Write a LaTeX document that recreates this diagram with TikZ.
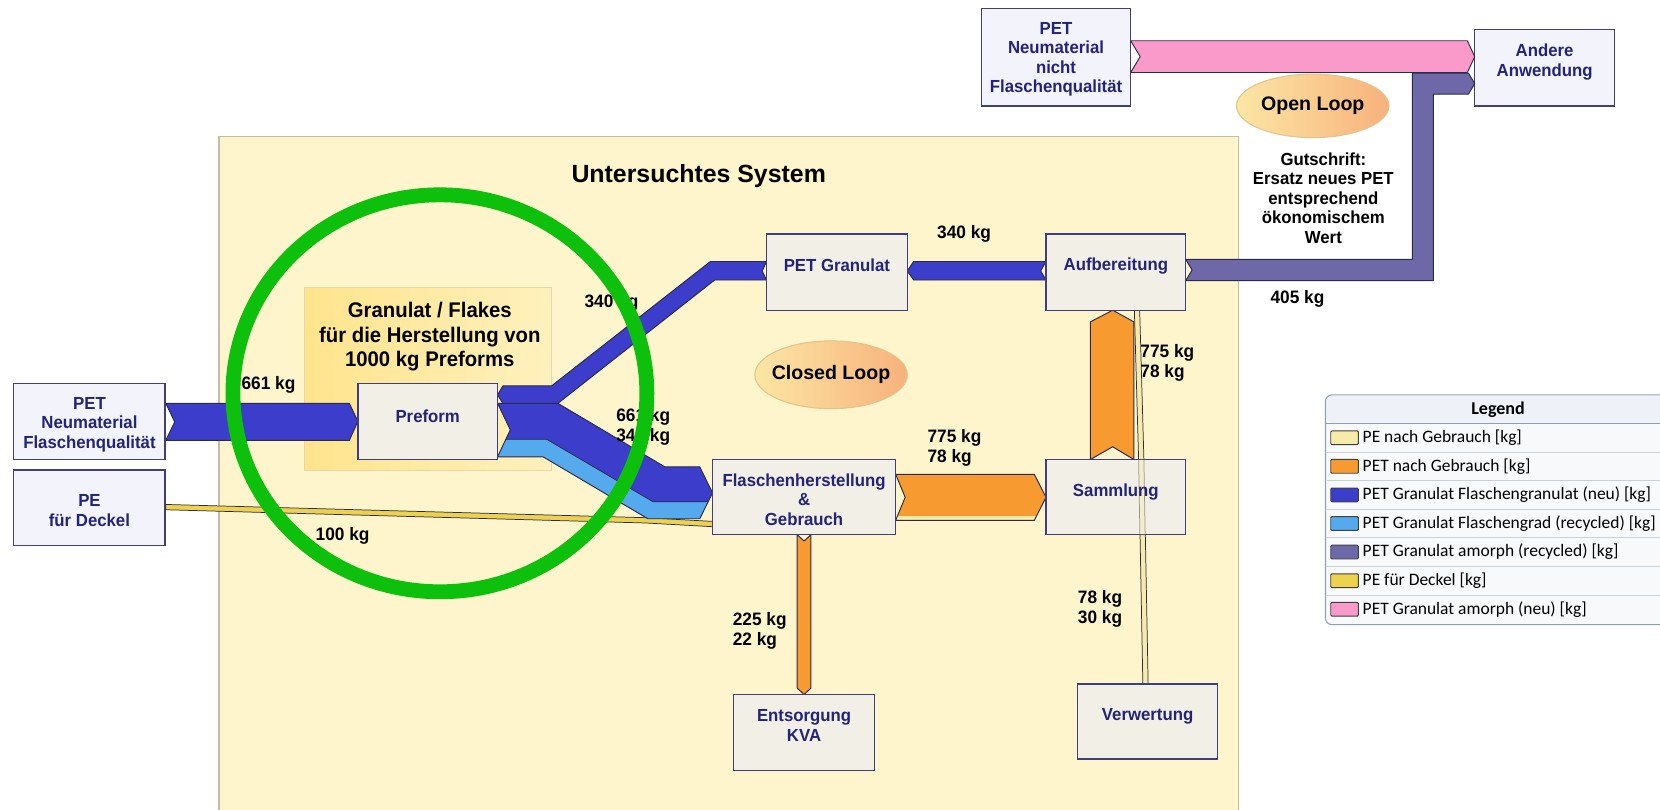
\documentclass[tikz,border=0pt]{standalone}
\usepackage{fontspec}
\setmainfont{Liberation Sans}
\newfontfamily\nar{Liberation Sans}[FakeStretch=0.96]
\newfontfamily\leg{Carlito}
\usetikzlibrary{shapes.geometric,calc}
\definecolor{sysbg}{HTML}{FFF5CC}
\definecolor{sysborder}{HTML}{C2BCA8}
\definecolor{granA}{HTML}{FFE48C}
\definecolor{granB}{HTML}{FFF1BE}
\definecolor{granborder}{HTML}{E6D7A6}
\definecolor{cboxin}{HTML}{F1EFE6}
\definecolor{cboxout}{HTML}{F3F3FB}
\definecolor{cborder}{HTML}{3F3F7F}
\definecolor{cbtext}{HTML}{23237A}
\definecolor{cline}{HTML}{2A2A4A}
\definecolor{cblue}{HTML}{3D3DCB}
\definecolor{clblue}{HTML}{55AAEE}
\definecolor{corange}{HTML}{F79A30}
\definecolor{cpale}{HTML}{F6EBA8}
\definecolor{cyellow}{HTML}{EDD24E}
\definecolor{cpurple}{HTML}{6F68A8}
\definecolor{cpink}{HTML}{FA9ACB}
\definecolor{cgreen}{HTML}{0CC00C}
\definecolor{loopA}{HTML}{FCE6A4}
\definecolor{loopB}{HTML}{F7B27C}
\definecolor{loopborder}{HTML}{E2C48C}
\definecolor{legbg}{HTML}{F8F9FB}
\definecolor{leghead}{HTML}{EEF2F8}
\definecolor{legborder}{HTML}{8FA0B0}
\definecolor{legsep}{HTML}{C8D0D8}
\begin{document}
\begin{tikzpicture}[x=1pt,y=-1pt,
  inbox/.style={draw=cborder,line width=1.3pt,fill=cboxin,inner sep=0pt},
  outbox/.style={draw=cborder,line width=1.3pt,fill=cboxout,inner sep=0pt},
  btxt/.style={font=\nar\bfseries\fontsize{16.5}{18.5}\selectfont,text=cbtext,align=center,inner sep=0pt},
  num/.style={font=\nar\bfseries\fontsize{17}{19}\selectfont,align=left,anchor=west,inner sep=0pt},
  flow/.style={draw=cline,line width=0.9pt,line join=round},
  loop/.style={ellipse,draw=loopborder,line width=1pt,left color=loopA,right color=loopB,inner sep=0pt},
  looptxt/.style={font=\bfseries\fontsize{18.5}{20}\selectfont,inner sep=0pt},
  legtxt/.style={font=\leg\fontsize{16.5}{18}\selectfont,anchor=west,inner sep=0pt}
]
\useasboundingbox (0,0) rectangle (1568,765);
\fill[white] (0,0) rectangle (1568,765);

% system area
\draw[fill=sysbg,draw=sysborder,line width=1.5pt] (207,129) rectangle (1170,770);
\node[font=\bfseries\fontsize{23.5}{26}\selectfont,inner sep=0pt] (title) at (660,166) {Untersuchtes System};

% Granulat / Flakes area
\node[draw=granborder,line width=1pt,left color=granA,right color=granB,minimum width=233pt,minimum height=172pt,inner sep=0pt] (granarea) at (404.5,358) {};
\node[font=\nar\bfseries\fontsize{20}{23}\selectfont,align=center,inner sep=0pt] (grantxt) at (406,318) {Granulat / Flakes\\für die Herstellung von\\1000 kg Preforms};

\path (84.5,398) coordinate (neuC) (84.5,479.5) coordinate (peC) (997.5,54) coordinate (nichtC)
      (1459,64) coordinate (andereC) (790.5,257) coordinate (granC) (1054,257) coordinate (aufbC)
      (759.5,469.5) coordinate (flaschC) (1054,469.5) coordinate (sammC) (759.5,692) coordinate (entsC)
      (1084,681.5) coordinate (verwC) (404,398) coordinate (preC);
\node[outbox,minimum width=143pt,minimum height=72pt] (neu) at (neuC) {};
\node[outbox,minimum width=143pt,minimum height=71pt] (pe) at (peC) {};
\node[outbox,minimum width=141pt,minimum height=92pt] (nicht) at (nichtC) {};
\node[outbox,minimum width=132pt,minimum height=72pt] (andere) at (andereC) {};

% flows
\path[flow,fill=cblue] (neu.east |- 0,381) -- (330,381) -- (preC -| 338,0) -- (330,416) -- (neu.east |- 0,416) -- (165,398.5) -- cycle;
\path[flow,fill=cyellow,line width=0.7pt] (pe.east |- 0,476.5) -- (610,489) -- (673,492.5) -- (673,497.5) -- (610,494) -- (pe.east |- 0,481.5) -- cycle;
\begin{scope}
  \clip (470,381) -- (527,381) -- (628,441) -- (661,441) -- (673,465.5) -- (661,490) -- (612,490) -- (513,431.5) -- (470,431.5) -- (482,406) -- cycle;
  \fill[clblue] (450,370) rectangle (690,500);
  \fill[cblue] (450,370) -- (700,370) -- (700,474) -- (617,474) -- (516.5,415) -- (450,415) -- cycle;
\end{scope}
\path[flow] (470,381) -- (527,381) -- (628,441) -- (661,441) -- (673,465.5) -- (661,490) -- (612,490) -- (513,431.5) -- (470,431.5) -- (482,406) -- cycle;
\draw[cline,line width=0.7pt] (478,415) -- (516.5,415) -- (617,474) -- (668.5,474);
\path[flow,fill=cblue] (470,373) -- (475,364.5) -- (521,364.5) -- (671,247) -- (724,247) -- (720,256) -- (724,264.5) -- (675,264.5) -- (527,381) -- (475,381) -- cycle;
\path[flow,fill=cblue] (857,256) -- (863,247) -- (988,247) -- (983,256) -- (988,264.5) -- (863,264.5) -- cycle;
\begin{scope}
  \clip (846,448) -- (977,448) -- (988,469.75) -- (977,491.5) -- (846,491.5) -- (855,469.75) -- cycle;
  \fill[corange] (840,440) rectangle (990,500);
  \fill[cpale] (840,487.5) rectangle (990,500);
\end{scope}
\path[flow] (846,448) -- (977,448) -- (988,469.75) -- (977,491.5) -- (846,491.5) -- (855,469.75) -- cycle;
\path[flow,fill=corange] (1030,434) -- (1030,304) -- (1051,293) -- (1071,304) -- (1071,434) -- (1051,422) -- cycle;
\path[flow,fill=corange] (753,505) -- (759.5,511) -- (766,505) -- (766,650) -- (759.5,656) -- (753,650) -- cycle;
\path[flow,fill=cpurple] (1120,245) -- (1334,245) -- (1334,69) -- (1387,69) -- (1393,79) -- (1387,89) -- (1354,89) -- (1354,265) -- (1120,265) -- (1126,255) -- cycle;
\path[flow,fill=cpink] (1068,38.5) -- (1386,38.5) -- (1393,53.5) -- (1386,68.5) -- (1068,68.5) -- (1077,53.5) -- cycle;
\path[flow,fill=cpale,line width=0.7pt] (1071.5,293) -- (1076.5,293) -- (1080.5,434) -- (1084.5,646) -- (1079.5,646) -- (1075.5,434) -- cycle;

% inner boxes
\node[inbox,minimum width=132pt,minimum height=72pt] (preform) at (preC) {};
\node[inbox,minimum width=133pt,minimum height=72pt] (gran) at (granC) {};
\node[inbox,minimum width=132pt,minimum height=72pt] (aufb) at (aufbC) {};
\node[inbox,minimum width=173pt,minimum height=71pt] (flasch) at (flaschC) {};
\node[inbox,minimum width=132pt,minimum height=71pt] (samm) at (sammC) {};
\node[inbox,minimum width=133pt,minimum height=72pt] (ents) at (entsC) {};
\node[inbox,minimum width=132pt,minimum height=71pt] (verw) at (verwC) {};
\path[flow,fill=cpale,line width=0.7pt,opacity=0.45] (1075.5,434) -- (1080.5,434) -- (1081.7,505) -- (1076.7,505) -- cycle;

% box texts
\node[btxt] at (84.5,401) {PET\\Neumaterial\\Flaschenqualität};
\node[btxt] at (84.5,482) {PE\\für Deckel};
\node[btxt] at (997.5,56) {PET\\Neumaterial\\nicht\\Flaschenqualität};
\node[btxt] at (1459,58.5) {Andere\\Anwendung};
\node[btxt] at (404,393) {Preform};
\node[btxt] at (790.5,251) {PET Granulat};
\node[btxt] at (1054,251) {Aufbereitung};
\node[btxt] at (759.5,472) {Flaschenherstellung\\\&\\Gebrauch};
\node[btxt] at (1054,465) {Sammlung};
\node[btxt] at (759.5,685.5) {Entsorgung\\KVA};
\node[btxt] at (1084,677) {Verwertung};

% loops
\node[loop,minimum width=144pt,minimum height=64pt] (closed) at (785,354) {};
\node[looptxt] at (closed.center) {Closed Loop};
\node[loop,minimum width=144pt,minimum height=60pt] (open) at (1240,100) {};
\node[looptxt] at (open.center) {Open Loop};
\node[font=\nar\bfseries\fontsize{16.5}{18.5}\selectfont,align=center,inner sep=0pt] (gut) at (1250,187) {Gutschrift:\\Ersatz neues PET\\entsprechend\\ökonomischem\\Wert};

% quantities
\node[num] (q1) at (228,364) {661 kg};
\node[num] (q2) at (552,286) {340 kg};
\node[num] (q3) at (885,221) {340 kg};
\node[num] (q4) at (1200,282) {405 kg};
\node[num] (q5) at (1077,343) {775 kg\\78 kg};
\node[num] (q6) at (582,403) {661 kg\\340 kg};
\node[num] (q7) at (876,423) {775 kg\\78 kg};
\node[num] (q8) at (298,506) {100 kg};
\node[num] (q9) at (692,596) {225 kg\\22 kg};
\node[num] (q10) at (1018,575) {78 kg\\30 kg};

% legend
\draw[fill=legbg,draw=legborder,line width=1pt,rounded corners=6pt] (1252,373) rectangle (1590,590);
\fill[leghead,rounded corners=5pt] (1253,374) rectangle (1589,399.5);
\draw[legborder,line width=0.8pt] (1252,400) -- (1590,400);
\node[font=\leg\bfseries\fontsize{17}{19}\selectfont,inner sep=0pt] (leghd) at (1415,387) {Legend};
\foreach \i/\c/\t in {0/cpale/{PE nach Gebrauch [kg]},
                      1/corange/{PET nach Gebrauch [kg]},
                      2/cblue/{PET Granulat Flaschengranulat (neu) [kg]},
                      3/clblue/{PET Granulat Flaschengrad (recycled) [kg]},
                      4/cpurple/{PET Granulat amorph (recycled) [kg]},
                      5/cyellow/{PE für Deckel [kg]},
                      6/cpink/{PET Granulat amorph (neu) [kg]}}{
  \pgfmathsetmacro{\yc}{413.5+27*\i}
  \draw[fill=\c,draw=black!75,line width=0.9pt,rounded corners=1pt] (1257,\yc-6.5) rectangle (1283,\yc+6.5);
  \node[legtxt] at (1287,\yc) {\t};
  \ifnum\i<6 \draw[legsep,line width=0.8pt] (1253,\yc+13.5) -- (1590,\yc+13.5); \fi
}

% green highlight circle
\draw[cgreen,line width=14pt] (415.5,371.5) ellipse[x radius=195.5,y radius=187.5];
\end{tikzpicture}
\end{document}
